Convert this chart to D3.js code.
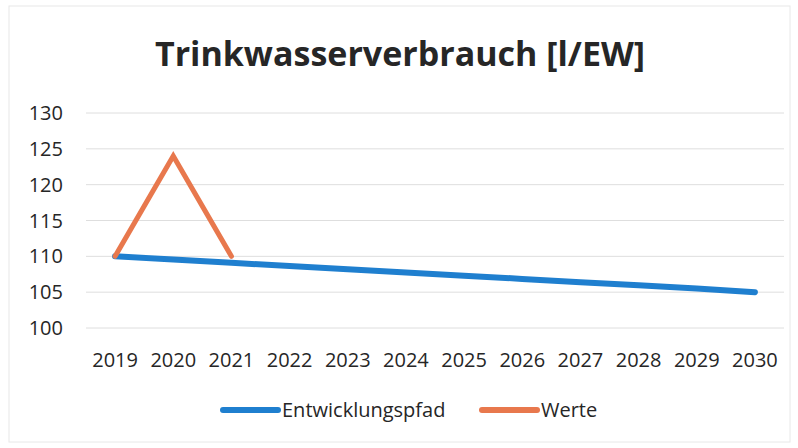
<!DOCTYPE html>
<html>
<head>
<meta charset="utf-8">
<script src="https://cdn.jsdelivr.net/npm/d3@7"></script>
<style>
  body { margin: 0; background: #fff; }
  text { font-family: "Open Sans", "Noto Sans", sans-serif; fill: #262626; }
</style>
</head>
<body>
<script>
let years = ["2019","2020","2021","2022","2023","2024","2025","2026","2027","2028","2029","2030"];
let pfad = [110, 109.55, 109.1, 108.65, 108.2, 107.75, 107.3, 106.85, 106.4, 105.95, 105.5, 105];
let werte = [110, 124, 110];
let yTicks = [100, 105, 110, 115, 120, 125, 130];
let seriesNames = ["Entwicklungspfad", "Werte"];
let colors = ["#1f7fcf", "#e8784d"];

let w = 798, h = 448;
let svg = d3.select("body").append("svg").attr("width", w).attr("height", h);

svg.append("rect").attr("x", 9).attr("y", 6).attr("width", 781).attr("height", 436)
  .attr("fill", "#fff").attr("stroke", "#e8e8e8");

svg.append("text").attr("x", 400).attr("y", 66).attr("text-anchor", "middle")
  .style("font-size", "34px").style("font-weight", "bold").attr("fill", "#333")
  .text("Trinkwasserverbrauch [l/EW]");

let x = d3.scaleBand().domain(years).range([86, 784]);
let y = d3.scaleLinear().domain([100, 130]).range([328, 113]);

svg.selectAll(".grid").data(yTicks).enter().append("line")
  .attr("x1", 86).attr("x2", 784)
  .attr("y1", d => y(d)).attr("y2", d => y(d))
  .attr("stroke", "#dedede").attr("stroke-width", 1);

svg.selectAll(".ylab").data(yTicks).enter().append("text")
  .attr("x", 63).attr("y", d => y(d) + 7).attr("text-anchor", "end")
  .style("font-size", "20px").text(d => d);

svg.selectAll(".xlab").data(years).enter().append("text")
  .attr("x", d => x(d) + x.bandwidth() / 2).attr("y", 367).attr("text-anchor", "middle")
  .style("font-size", "20px").text(d => d);

let line = d3.line()
  .x((d, i) => x(years[i]) + x.bandwidth() / 2)
  .y(d => y(d));

svg.append("path").attr("d", line(pfad)).attr("fill", "none")
  .attr("stroke", colors[0]).attr("stroke-width", 6).attr("stroke-linecap", "round");
svg.append("path").attr("d", line(werte)).attr("fill", "none")
  .attr("stroke", colors[1]).attr("stroke-width", 5).attr("stroke-linecap", "round")
  .attr("stroke-linejoin", "miter");

// legend
let legend = [{x: 223, tx: 282}, {x: 482, tx: 541}];
legend.forEach((l, i) => {
  svg.append("line").attr("x1", l.x).attr("x2", l.x + 55).attr("y1", 410).attr("y2", 410)
    .attr("stroke", colors[i]).attr("stroke-width", 6).attr("stroke-linecap", "round");
  svg.append("text").attr("x", l.tx).attr("y", 417).style("font-size", "20px").text(seriesNames[i]);
});
</script>
</body>
</html>
